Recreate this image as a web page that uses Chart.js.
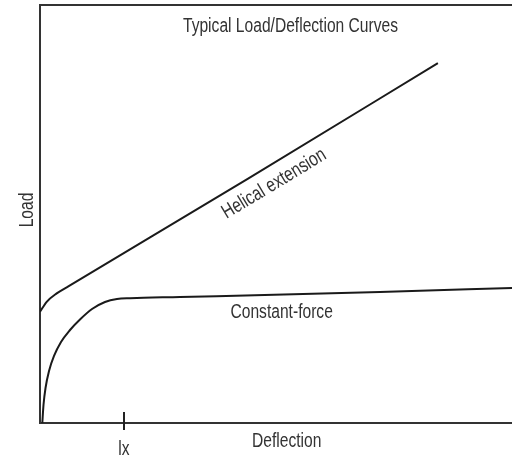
<!DOCTYPE html>
<html>
<head>
<meta charset="utf-8">
<script src="https://cdn.jsdelivr.net/npm/chart.js@4/dist/chart.umd.min.js"></script>
<style>
  html, body { margin: 0; padding: 0; background: #fff; }
  #wrap { width: 512px; height: 458px; }
</style>
</head>
<body>
<div id="wrap"><canvas id="loadChart" width="512" height="458"></canvas></div>
<script>
// deflection (x) and load (y), 0..100 on both axes
const helicalX = [0, 1.42, 3.54, 6.0, 44, 84.3];
const helicalY = [26.6, 29.0, 31.0, 32.68, 58.4, 86.1];
const constantX = [0.49, 0.74, 1.17, 1.91, 2.97, 4.45, 6.36, 8.47, 11.02, 13.77, 16.31, 19.07, 29.66, 72.03, 100];
const constantY = [0, 4.31, 8.37, 12.44, 16.03, 19.38, 22.25, 24.76, 27.27, 28.95, 29.67, 29.86, 30.14, 31.34, 32.3];
const markerTicks = [17.8];
const markerLabels = ['lx'];

const chartTitle = 'Typical Load/Deflection Curves';
const xTitle = 'Deflection';
const yTitle = 'Load';
const seriesLabels = ['Helical extension', 'Constant-force'];

const toPoints = (xs, ys) => xs.map((x, i) => ({ x: x, y: ys[i] }));

const FONT = '20px "Liberation Sans", Arial, sans-serif';
const NARROW = 0.78; // squeeze to a condensed face
const INK = '#333';

// draw condensed text centred at (x, y), optionally rotated
function narrowText(ctx, text, x, y, angle) {
    ctx.save();
    ctx.translate(x, y);
    if (angle) ctx.rotate(angle);
    ctx.scale(NARROW, 1);
    ctx.fillText(text, 0, 0);
    ctx.restore();
}

const textPlugin = {
    id: 'texts',
    afterDraw(chart) {
        const ctx = chart.ctx;
        const xs = chart.scales.x;
        const ys = chart.scales.y;
        const area = chart.chartArea;
        ctx.save();
        ctx.fillStyle = INK;
        ctx.font = FONT;
        ctx.textAlign = 'center';
        ctx.textBaseline = 'alphabetic';

        narrowText(ctx, chartTitle, 290.5, 31.7);
        narrowText(ctx, xTitle, 286.7, 446.7);
        narrowText(ctx, yTitle, 33.3, 210, -Math.PI / 2);

        // marker tick on x axis
        ctx.strokeStyle = '#222';
        ctx.lineWidth = 2;
        markerTicks.forEach((v, i) => {
            const px = Math.round(xs.getPixelForValue(v));
            ctx.beginPath();
            ctx.moveTo(px, area.bottom - 11);
            ctx.lineTo(px, area.bottom + 7);
            ctx.stroke();
            narrowText(ctx, markerLabels[i], px, 455);
        });

        // helical label, rotated along the line
        const n = helicalX.length;
        const ax = xs.getPixelForValue(helicalX[3]), ay = ys.getPixelForValue(helicalY[3]);
        const bx = xs.getPixelForValue(helicalX[n - 1]), by = ys.getPixelForValue(helicalY[n - 1]);
        const ang = Math.atan2(by - ay, bx - ax);
        ctx.textBaseline = 'middle';
        narrowText(ctx, seriesLabels[0], xs.getPixelForValue(49.6), ys.getPixelForValue(57.2), ang);

        // constant-force label
        ctx.textBaseline = 'alphabetic';
        narrowText(ctx, seriesLabels[1], xs.getPixelForValue(51.2), ys.getPixelForValue(25.1));
        ctx.restore();
    }
};

document.addEventListener('DOMContentLoaded', () => {
    const ctx = document.getElementById('loadChart').getContext('2d');
    const edge = { display: true, color: INK, width: 2 };
    const bare = { display: false, drawTicks: false, tickLength: 0 };
    new Chart(ctx, {
        type: 'line',
        data: {
            datasets: [{
                label: seriesLabels[0],
                data: toPoints(helicalX, helicalY),
                borderColor: '#1a1a1a',
                borderWidth: 2,
                pointRadius: 0,
                cubicInterpolationMode: 'monotone',
                fill: false
            }, {
                label: seriesLabels[1],
                data: toPoints(constantX, constantY),
                borderColor: '#1a1a1a',
                borderWidth: 2,
                pointRadius: 0,
                cubicInterpolationMode: 'monotone',
                fill: false
            }]
        },
        options: {
            responsive: false,
            animation: false,
            layout: { padding: { left: 40, top: 5, right: 0, bottom: 35 } },
            plugins: {
                legend: { display: false },
                tooltip: { enabled: false },
                title: { display: false }
            },
            scales: {
                x: {
                    type: 'linear', min: 0, max: 100,
                    grid: bare,
                    ticks: { display: false, padding: 0 },
                    border: edge
                },
                x2: {
                    type: 'linear', position: 'top', min: 0, max: 100,
                    grid: bare,
                    ticks: { display: false, padding: 0 },
                    border: edge
                },
                y: {
                    type: 'linear', min: 0, max: 100,
                    grid: bare,
                    ticks: { display: false, padding: 0 },
                    border: edge
                }
            }
        },
        plugins: [textPlugin]
    });
});
</script>
</body>
</html>
